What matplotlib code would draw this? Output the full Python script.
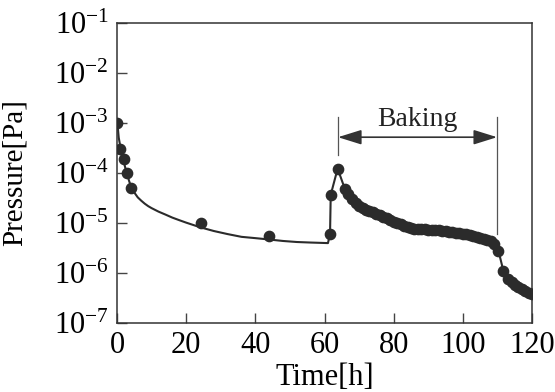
import matplotlib
matplotlib.use("Agg")
import matplotlib.pyplot as plt
import numpy as np
from matplotlib.ticker import FixedLocator, FuncFormatter

plt.rcParams['font.family'] = ['Liberation Serif', 'DejaVu Serif']
plt.rcParams['mathtext.fontset'] = 'custom'
plt.rcParams['mathtext.rm'] = 'Liberation Serif'
plt.rcParams['mathtext.it'] = 'Liberation Serif:italic'

# Fitted decay curve (before baking)
fit_t = [0.1, 0.5, 1, 1.5, 2, 2.5, 3, 3.5, 4, 5, 6, 7, 8, 9, 10, 12, 14, 16, 18, 20, 22, 24,
         28, 32, 36, 40, 44, 48, 52, 56, 61]
fit_p = [1.0e-3, 5.0e-4, 3.2e-4, 2.2e-4, 1.6e-4, 1.17e-4, 8.9e-5, 6.8e-5, 5.4e-5, 4.0e-5,
         3.2e-5, 2.75e-5, 2.4e-5, 2.14e-5, 1.95e-5, 1.66e-5, 1.45e-5, 1.26e-5, 1.12e-5,
         1.0e-5, 9.0e-6, 8.1e-6, 6.8e-6, 5.9e-6, 5.2e-6, 4.9e-6, 4.6e-6, 4.3e-6, 4.1e-6,
         4.0e-6, 3.9e-6]

# Measured points before the jump
early_t = [0.1, 0.9, 2.1, 2.8, 4.0, 24.2, 44.0]
early_p = [1.0e-3, 3.0e-4, 1.9e-4, 1.0e-4, 4.9e-5, 9.7e-6, 5.5e-6]

# Measured points from the jump onward (connected by a line)
late_t = [61.6, 61.8, 63.8, 65.9, 66.8, 68, 69, 70, 71, 72, 73, 74, 75, 76, 77, 78, 79, 80,
          81, 82, 83, 84, 85, 86, 87, 88, 89, 90, 91, 92, 93, 94, 95, 96, 97, 98, 99, 100,
          101, 102, 103, 104, 105, 106, 107, 108, 109, 110.3, 111.7, 113, 114.1, 115, 116,
          117, 118, 119, 119.9]
late_p = [5.9e-6, 3.6e-5, 1.2e-4, 4.7e-5, 3.7e-5, 2.9e-5, 2.5e-5, 2.2e-5, 2.0e-5, 1.8e-5,
          1.7e-5, 1.6e-5, 1.5e-5, 1.4e-5, 1.3e-5, 1.25e-5, 1.15e-5, 1.05e-5, 1.0e-5, 9.3e-6,
          8.7e-6, 8.3e-6, 7.9e-6, 7.6e-6, 7.4e-6, 7.4e-6, 7.3e-6, 7.2e-6, 7.2e-6, 7.1e-6,
          7.0e-6, 6.9e-6, 6.8e-6, 6.6e-6, 6.5e-6, 6.3e-6, 6.2e-6, 6.0e-6, 5.9e-6, 5.75e-6,
          5.5e-6, 5.25e-6, 5.0e-6, 4.8e-6, 4.5e-6, 4.2e-6, 3.7e-6, 2.75e-6, 1.1e-6, 7.6e-7,
          6.5e-7, 5.6e-7, 5.1e-7, 4.7e-7, 4.3e-7, 4.0e-7, 3.7e-7]

x_ticks = [0, 20, 40, 60, 80, 100, 120]
y_exps = [-7, -6, -5, -4, -3, -2, -1]

baking_start, baking_end = 63.9, 109.9

C = '#2b2b2b'
fig = plt.figure(figsize=(5.55, 3.92), dpi=100)
ax = fig.add_axes([117/555, 1-322.7/392, (532-117)/555, (322.7-22.5)/392])

ax.plot(list(fit_t) + list(late_t), list(fit_p) + list(late_p), color=C, lw=1.5, zorder=2)
ax.plot(early_t, early_p, 'o', color=C, ms=7.4, mec=C, zorder=3)
ax.plot(late_t, late_p, 'o', color=C, ms=7.4, mec=C, zorder=3)

ax.set_yscale('log')
ax.set_xlim(0, 120)
ax.set_ylim(1e-7, 1e-1)
ax.xaxis.set_major_locator(FixedLocator(x_ticks))
ax.yaxis.set_major_locator(FixedLocator([10.0**e for e in y_exps]))
ax.yaxis.set_minor_locator(FixedLocator([]))
ax.yaxis.set_major_formatter(FuncFormatter(lambda v, p: r'$\mathregular{10^{%d}}$' % int(round(np.log10(v)))))
ax.tick_params(direction='in', length=7, width=1, color='#444', labelsize=22, top=False, right=False)
ax.tick_params(axis='x', pad=6)
ax.tick_params(axis='y', pad=6)
for s in ax.spines.values():
    s.set_color('#333')
    s.set_linewidth(1.1)

ax.set_xlabel('Time[h]', fontsize=22, labelpad=2)
ax.set_ylabel('Pressure[Pa]', fontsize=21)
ax.yaxis.set_label_coords(-0.215, 0.5)

# Baking annotation
ax.plot([baking_start, baking_start], [1.3e-3, 2.2e-4], color='#555', lw=0.9)
ax.plot([baking_end, baking_end], [1.3e-3, 6.0e-6], color='#555', lw=0.9)
ax.annotate('', xy=(baking_end, 5.1e-4), xytext=(baking_start, 5.1e-4),
            arrowprops=dict(arrowstyle='<|-|>,head_length=0.8,head_width=0.25',
                            mutation_scale=18, color='#333', lw=1.2, shrinkA=0, shrinkB=0))
ax.text((baking_start + baking_end) / 2, 8.7e-4, 'Baking', ha='center', va='baseline', fontsize=20, color='#222')

fig.savefig('out.png', dpi=100)
